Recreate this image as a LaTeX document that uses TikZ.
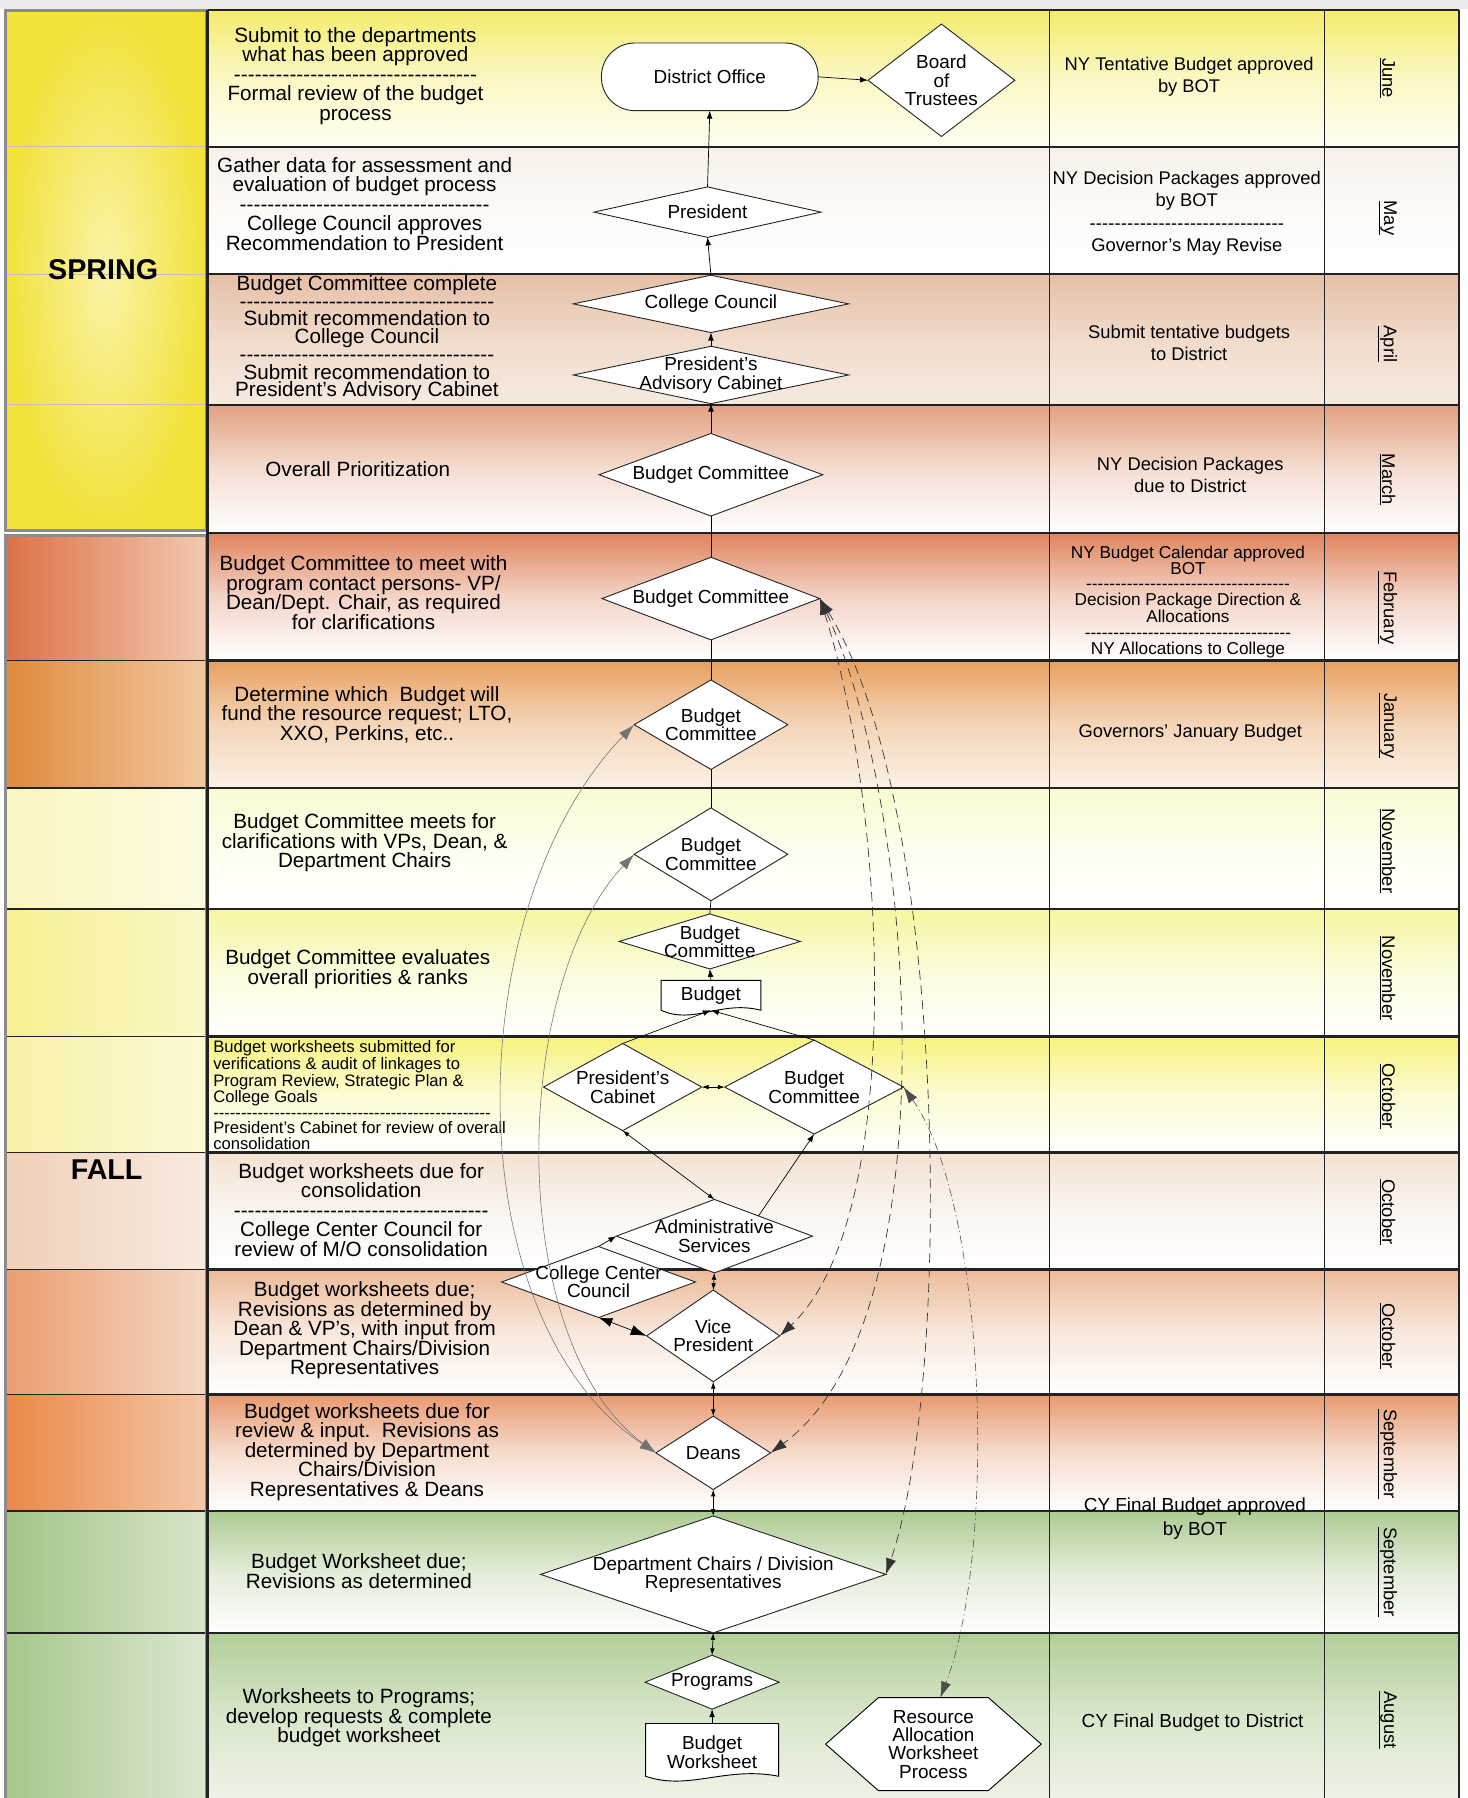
\documentclass[tikz,border=0pt]{standalone}
\usepackage{fontspec}
\setmainfont{Liberation Sans}
\usetikzlibrary{positioning,calc,shapes.geometric,arrows.meta}

\definecolor{frame}{HTML}{222222}
% row colours (top of each row)
\definecolor{rJunT}{HTML}{F4EC6E}\definecolor{rJunB}{HTML}{FFFEF2}
\definecolor{rMayT}{HTML}{F8F1EA}
\definecolor{rAprT}{HTML}{E6BFA6}\definecolor{rAprB}{HTML}{F6EAE0}
\definecolor{rMarT}{HTML}{E2A080}
\definecolor{rFebT}{HTML}{E0845E}
\definecolor{rJanT}{HTML}{E8A060}\definecolor{rJanB}{HTML}{FBF1E6}
\definecolor{rNovaT}{HTML}{FAFAD0}
\definecolor{rNovbT}{HTML}{F6F6A0}
\definecolor{rOctaT}{HTML}{F7F37E}
\definecolor{rOctbT}{HTML}{F3E2D2}
\definecolor{rOctcT}{HTML}{ECBB9A}
\definecolor{rSepaT}{HTML}{E79A70}
\definecolor{rSepbT}{HTML}{ADCB92}
\definecolor{rAugT}{HTML}{B1CE98}\definecolor{rAugB}{HTML}{EDF3E6}
% season column colours
\definecolor{sSprI}{HTML}{FAF3A8}\definecolor{sSprO}{HTML}{F2E23A}
\definecolor{sFebL}{HTML}{DD7246}\definecolor{sFebR}{HTML}{F3C8B0}
\definecolor{sJanL}{HTML}{E08A3C}\definecolor{sJanR}{HTML}{F2C8A0}
\definecolor{sNovaL}{HTML}{FAF6C0}\definecolor{sNovaR}{HTML}{FCFBE0}
\definecolor{sNovbL}{HTML}{F6F090}\definecolor{sNovbR}{HTML}{FAF8C8}
\definecolor{sOctaL}{HTML}{F8F3A8}\definecolor{sOctaR}{HTML}{FBF8D5}
\definecolor{sOctbL}{HTML}{F0D0B8}\definecolor{sOctbR}{HTML}{F8EAE0}
\definecolor{sOctcL}{HTML}{EA9E70}\definecolor{sOctcR}{HTML}{F5D8C4}
\definecolor{sSepaL}{HTML}{EA8848}\definecolor{sSepaR}{HTML}{F4C8A8}
\definecolor{sSepbL}{HTML}{A2C486}\definecolor{sSepbR}{HTML}{D8E6CA}
\definecolor{sAugL}{HTML}{A6C78C}\definecolor{sAugR}{HTML}{DCE8D0}

\newcommand{\dashes}[1]{\hbox to #1{\xleaders\hbox{-}\hfill}}
\newcommand{\docshape}[4]{% centre x, centre y, half width, half height
  \draw[fill=white, line width=0.8pt] ({#1-#3},{#2-#4}) -- ({#1+#3},{#2-#4}) -- ({#1+#3},{#2+#4})
    .. controls ({#1+0.2*#3},{#2+#4-9}) and ({#1-0.35*#3},{#2+#4+13}) .. ({#1-#3},{#2+#4}) -- cycle;}
\newcommand{\hexshape}[4]{% centre x, centre y, half width, half height
  \draw[fill=white, line width=0.8pt] ({#1-#3},#2) -- ({#1-#3+46},{#2-#4}) -- ({#1+#3-46},{#2-#4})
    -- ({#1+#3},#2) -- ({#1+#3-46},{#2+#4}) -- ({#1-#3+46},{#2+#4}) -- cycle;}

\begin{document}
\begin{tikzpicture}[x=1pt, y=-1pt,
                every node/.style={inner sep=0pt, outer sep=0pt},
                desc/.style={align=center, font=\fontsize{18}{17}\selectfont},
                note/.style={align=center, font=\fontsize{16}{19.5}\selectfont},
                month/.style={rotate=-90, font=\fontsize{16}{16}\selectfont},
                season/.style={font=\fontsize{25}{25}\selectfont\bfseries},
                txt/.style={align=center, font=\fontsize{16.5}{16}\selectfont},
                dia/.style={diamond, draw=black!85, fill=white, line width=0.8pt},
                rowline/.style={draw=frame, line width=2pt},
                plain/.style={line width=0.6pt},
                flow/.style={-{Latex[length=7pt,width=5pt]}, line width=0.6pt},
                twoway/.style={{Latex[length=6pt,width=4pt]}-{Latex[length=6pt,width=4pt]}, line width=0.6pt},
                bigtwo/.style={{Latex[length=12pt,width=8pt]}-{Latex[length=14pt,width=9pt]}, line width=0.6pt},
                swing/.style={black!55, line width=0.5pt, {Latex[length=14pt,width=9pt]}-{Latex[length=14pt,width=9pt]}},
                dashy/.style={black!80, line width=0.6pt, dash pattern=on 8pt off 5pt, {Latex[length=14pt,width=9pt]}-{Latex[length=14pt,width=9pt]}},
                dashdot/.style={black!70, line width=0.5pt, dash pattern=on 7pt off 3pt on 1pt off 3pt, {Latex[length=14pt,width=9pt]}-{Latex[length=14pt,width=9pt]}}
            ]
            \useasboundingbox (0,0) rectangle (1280,1568);
            % Background and rows
            \fill[white] (0,0) rectangle (1280,1568);
            \fill[black!8] (0,0) rectangle (1280,8);
            \foreach \ya/\yb/\ct/\cb in {9/128/rJunT/rJunB, 128/239/rMayT/white, 239/353/rAprT/rAprB,
                353/465/rMarT/white, 465/576/rFebT/white, 576/687/rJanT/rJanB, 687/793/rNovaT/white,
                793/904/rNovbT/white, 904/1005/rOctaT/white, 1005/1107/rOctbT/white, 1107/1216/rOctcT/white,
                1216/1318/rSepaT/white, 1318/1424/rSepbT/white, 1424/1568/rAugT/rAugB}
              \shade[top color=\ct, bottom color=\cb, middle color=\ct!35!\cb] (181,\ya) rectangle (1272,\yb);
            \shade[inner color=sSprI, outer color=sSprO] (5,9) rectangle (180,463);
            \foreach \ya/\yb/\cl/\cr in {467/576/sFebL/sFebR, 576/687/sJanL/sJanR, 687/793/sNovaL/sNovaR,
                793/904/sNovbL/sNovbR, 904/1005/sOctaL/sOctaR, 1005/1107/sOctbL/sOctbR, 1107/1216/sOctcL/sOctcR,
                1216/1318/sSepaL/sSepaR, 1318/1424/sSepbL/sSepbR, 1424/1568/sAugL/sAugR}
              \shade[left color=\cl, right color=\cr] (5,\ya) rectangle (180,\yb);
            % Grid
            \foreach \yy in {128,239,353}
              \draw[black!25, line width=0.8pt] (5,\yy) -- (180,\yy);
            \foreach \yy in {576,687,793,904,1005,1107,1216,1318,1424}
              \draw[frame, line width=1.5pt] (5,\yy) -- (180,\yy);
            \draw[black!45, line width=2.5pt] (5,9) rectangle (180,463);
            \draw[black!45, line width=2.5pt] (5,467) rectangle (180,1570);
            \foreach \yy in {9,128,239,353,465,576,687,793,904,1005,1107,1216,1318,1424}
              \draw[rowline] (181,\yy) -- (1272,\yy);
            \draw[frame, line width=2pt] (181,9) -- (181,1568);
            \draw[frame, line width=0.7pt] (915,9) -- (915,1568);
            \draw[frame, line width=1.4pt] (1155,9) -- (1155,1568);
            \draw[frame, line width=1.6pt] (1272,9) -- (1272,1568);

            % Seasons
            \node[season] (spring) at (90,235) {SPRING};
            \node[season] (fall) at (93,1020) {FALL};

            % Months
            \foreach \yy/\mm [count=\i] in {68/June, 190/May, 300/April, 418/March, 530/February, 633/January,
                742/November, 853/November, 956/October, 1057/October, 1165/October, 1268/September,
                1371/September, 1500/August}
              \node[month] (m\i) at (1210,\yy) {\underline{\mm}};

            % Descriptions
            \node[desc] (d1) at (310,66) {Submit to the departments\\what has been approved\\\dashes{212pt}\\Formal review of the budget\\process};
            \node[desc] (d2) at (318,178) {Gather data for assessment and\\evaluation of budget process\\\dashes{218pt}\\College Council approves\\Recommendation to President};
            \node[desc, font=\fontsize{18}{15.5}\selectfont] (d3) at (320,295) {Budget Committee complete\\\dashes{222pt}\\Submit recommendation to\\College Council\\\dashes{222pt}\\Submit recommendation to\\President’s Advisory Cabinet};
            \node[desc] (d4) at (312,409) {Overall Prioritization};
            \node[desc] (d5) at (317,517) {Budget Committee to meet with\\program contact persons- VP/\\Dean/Dept. Chair, as required\\for clarifications};
            \node[desc] (d6) at (320,623) {Determine which\ \ Budget will\\fund the resource request; LTO,\\XXO, Perkins, etc..};
            \node[desc] (d7) at (318,735) {Budget Committee meets for\\clarifications with VPs, Dean, \&\\Department Chairs};
            \node[desc] (d8) at (312,845) {Budget Committee evaluates\\overall priorities \& ranks};
            \node[align=left, anchor=west, font=\fontsize{14.5}{13.5}\selectfont] (d9) at (186,955) {Budget worksheets submitted for\\verifications \& audit of linkages to\\Program Review, Strategic Plan \&\\College Goals\\\dashes{242pt}\\President’s Cabinet for review of overall\\consolidation};
            \node[desc] (d10) at (315,1055) {Budget worksheets due for\\consolidation\\\dashes{222pt}\\College Center Council for\\review of M/O consolidation};
            \node[desc] (d11) at (318,1160) {Budget worksheets due;\\Revisions as determined by\\Dean \& VP’s, with input from\\Department Chairs/Division\\Representatives};
            \node[desc] (d12) at (320,1266) {Budget worksheets due for\\review \& input.\ \ Revisions as\\determined by Department\\Chairs/Division\\Representatives \& Deans};
            \node[desc] (d13) at (313,1370) {Budget Worksheet due;\\Revisions as determined};
            \node[desc] (d14) at (313,1498) {Worksheets to Programs;\\develop requests \& complete\\budget worksheet};

            % Notes
            \node[note] (n1) at (1037,67) {NY Tentative Budget approved\\by BOT};
            \node[note] (n2) at (1035,186) {NY Decision Packages approved\\by BOT\\\dashes{170pt}\\Governor’s May Revise};
            \node[note] (n3) at (1037,299) {Submit tentative budgets\\to District};
            \node[note] (n4) at (1038,414) {NY Decision Packages\\due to District};
            \node[note, font=\fontsize{15}{13.8}\selectfont] (n5) at (1036,525) {NY Budget Calendar approved\\BOT\\\dashes{178pt}\\Decision Package Direction \&\\Allocations\\\dashes{180pt}\\NY Allocations to College};
            \node[note] (n6) at (1038,639) {Governors’ January Budget};
            \node[note, font=\fontsize{16.5}{21}\selectfont] (n13) at (1042,1324) {CY Final Budget approved\\by BOT};
            \node[note, font=\fontsize{16.5}{19.5}\selectfont] (n14) at (1040,1502) {CY Final Budget to District};

            % Flow shapes
            \node[draw=black!85, fill=white, line width=0.8pt, rounded corners=29pt, minimum width=189pt, minimum height=59pt, txt] (dist) at (619,67) {District Office};
            \node[dia, minimum width=128pt, minimum height=98pt, label={[txt]center:{Board\\of\\Trustees}}] (bot) at (821,70) {};
            \node[dia, minimum width=198pt, minimum height=44pt, label={[txt]center:President}] (pres) at (617,185) {};
            \node[dia, minimum width=240pt, minimum height=50pt, label={[txt]center:College Council}] (cc) at (620,265) {};
            \node[dia, minimum width=240pt, minimum height=50pt, label={[txt]center:{President’s\\Advisory Cabinet}}] (pac) at (620,327) {};
            \node[dia, minimum width=195pt, minimum height=72pt, label={[txt]center:Budget Committee}] (bcmar) at (620,414) {};
            \node[dia, minimum width=190pt, minimum height=72pt, label={[txt]center:Budget Committee}] (bcfeb) at (620,522) {};
            \node[dia, minimum width=134pt, minimum height=78pt, label={[txt]center:{Budget\\Committee}}] (bcjan) at (620,632) {};
            \node[dia, minimum width=134pt, minimum height=81pt, label={[txt]center:{Budget\\Committee}}] (bcnova) at (620,745) {};
            \node[dia, minimum width=158pt, minimum height=48pt, label={[txt]center:{Budget\\Committee}}] (bcnovb) at (619,821) {};
            \docshape{620}{868}{43.5}{13}
            \node[txt, minimum width=87pt, minimum height=26pt] (bud) at (620,868) {Budget};
            \node[dia, minimum width=138pt, minimum height=76pt, label={[txt]center:{President’s\\Cabinet}}] (pc) at (543,948) {};
            \node[dia, minimum width=156pt, minimum height=82pt, label={[txt]center:{Budget\\Committee}}] (bcoct) at (710,948) {};
            \node[dia, minimum width=171pt, minimum height=64pt, label={[txt]center:{Administrative\\Services}}] (as) at (623,1078) {};
            \node[dia, minimum width=169pt, minimum height=62pt, label={[txt]center:{College Center\\Council}}] (ccc) at (522,1118) {};
            \node[dia, minimum width=116pt, minimum height=80pt, label={[txt]center:{Vice\\President}}] (vp) at (622,1165) {};
            \node[dia, minimum width=100pt, minimum height=64pt, label={[txt]center:Deans}] (deans) at (622,1267) {};
            \node[dia, minimum width=301pt, minimum height=102pt, label={[txt]center:{Department Chairs / Division\\Representatives}}] (dcdr) at (622,1373) {};
            \node[dia, minimum width=117pt, minimum height=47pt, label={[txt]center:Programs}] (prog) at (621,1467) {};
            \docshape{621}{1526}{58}{23}
            \node[txt, minimum width=116pt, minimum height=50pt] (bw) at (621,1528) {Budget\\Worksheet};
            \hexshape{814}{1521}{94}{40.5}
            \node[txt, minimum width=188pt, minimum height=81pt] (rawp) at (814,1521) {Resource\\Allocation\\Worksheet\\Process};

            % Arrows
            \draw[flow] (dist.east) -- (bot.west);
            \draw[flow] (pres.north) -- (dist.south);
            \draw[flow] (cc.north) -- (pres.south);
            \draw[flow] (pac.north) -- (cc.south);
            \draw[flow] (bcmar.north) -- (pac.south);
            \draw[plain] (bcfeb.north) -- (bcmar.south);
            \draw[plain] (bcjan.north) -- (bcfeb.south);
            \draw[plain] (bcnova.north) -- (bcjan.south);
            \draw[plain] (bcnovb.north) -- (bcnova.south);
            \draw[flow] (bud.north) -- (bcnovb.south);
            \draw[flow] (pc.north) -- (bud.south);
            \draw[flow] (bcoct.north) -- (bud.south);
            \draw[twoway] (pc.east) -- (bcoct.west);
            \draw[twoway] (pc.south) -- (as.north);
            \draw[flow] ($(as.north)!0.45!(as.east)$) -- (bcoct.south);
            \draw[flow] (ccc.north) -- (as.west);
            \draw[twoway] (as.south) -- (vp.north);
            \draw[bigtwo] (ccc.south) -- (vp.west);
            \draw[twoway] (vp.south) -- (deans.north);
            \draw[twoway] (deans.south) -- (dcdr.north);
            \draw[twoway] (dcdr.south) -- (prog.north);
            \draw[flow] (bw.north) -- (prog.south);
            % Curves
            \draw[swing] (deans.west) .. controls (395,1150) and (400,790) .. (bcjan.west);
            \draw[swing] (deans.west) .. controls (440,1170) and (445,860) .. (bcnova.west);
            \draw[dashy] (bcfeb.east) .. controls (772,700) and (792,1060) .. (vp.east);
            \draw[dashy] (bcfeb.east) .. controls (798,700) and (832,1150) .. (deans.east);
            \draw[dashy] (bcfeb.east) .. controls (826,700) and (832,1200) .. (dcdr.east);
            \draw[dashdot] (bcoct.east) .. controls (860,1050) and (870,1350) .. ([xshift=6pt]rawp.north);
\end{tikzpicture}
\end{document}
